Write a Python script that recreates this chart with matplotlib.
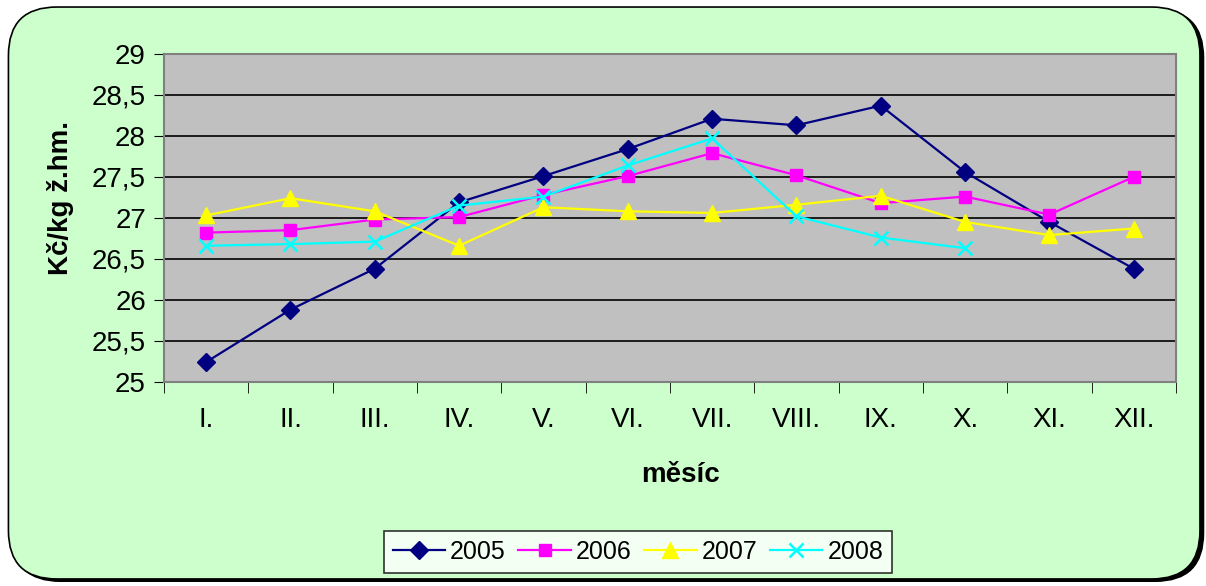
import matplotlib
matplotlib.use("Agg")
import matplotlib.pyplot as plt
from matplotlib.patches import FancyBboxPatch
import numpy as np

months = ["I.", "II.", "III.", "IV.", "V.", "VI.", "VII.", "VIII.", "IX.", "X.", "XI.", "XII."]
y2005 = [25.24, 25.88, 26.38, 27.19, 27.51, 27.84, 28.21, 28.13, 28.37, 27.56, 26.95, 26.38]
y2006 = [26.82, 26.85, 26.98, 27.01, 27.28, 27.51, 27.79, 27.52, 27.18, 27.26, 27.04, 27.50]
y2007 = [27.03, 27.24, 27.08, 26.66, 27.13, 27.08, 27.06, 27.16, 27.27, 26.95, 26.79, 26.87]
y2008 = [26.66, 26.68, 26.71, 27.15, 27.26, 27.64, 27.97, 27.02, 26.76, 26.63]
yticks = [25, 25.5, 26, 26.5, 27, 27.5, 28, 28.5, 29]

plt.rcParams['font.family'] = ['Liberation Sans', 'DejaVu Sans']

fig = plt.figure(figsize=(12.06, 5.86), dpi=100)
fig.patch.set_facecolor("white")

# rounded green background with a dark shadow
shadow = FancyBboxPatch((0.010, 0.008), 0.988, 0.976, boxstyle="round,pad=0,rounding_size=0.04",
                        transform=fig.transFigure, facecolor="black", edgecolor="black",
                        mutation_aspect=1206 / 586, zorder=-3)
bg = FancyBboxPatch((0.007, 0.012), 0.988, 0.976, boxstyle="round,pad=0,rounding_size=0.04",
                    transform=fig.transFigure, facecolor="#CCFFCC", edgecolor="black",
                    linewidth=1.2, mutation_aspect=1206 / 586, zorder=-2)
fig.patches.extend([shadow, bg])

ax = fig.add_axes([0.136, 0.3486, 0.839, 0.5592])
ax.set_facecolor("#C0C0C0")
for s in ax.spines.values():
    s.set_color("#808080")
    s.set_linewidth(1.5)

x = np.arange(len(months))
ax.plot(x, y2005, color="#000080", marker="D", markersize=9, linewidth=1.6, label="2005")
ax.plot(x, y2006, color="#FF00FF", marker="s", markersize=9, linewidth=1.6, label="2006")
ax.plot(x, y2007, color="#FFFF00", marker="^", markersize=11, linewidth=1.6, label="2007")
ax.plot(x[:len(y2008)], y2008, color="#00FFFF", marker="x", markersize=10, markeredgewidth=1.8,
        linewidth=1.6, label="2008")

ax.set_xlim(-0.5, len(months) - 0.5)
ax.set_ylim(25, 29)
ax.set_yticks(yticks)
ax.set_yticklabels([f"{v:g}".replace(".", ",") for v in yticks], fontsize=20)
ax.yaxis.grid(True, color="black", linewidth=1.2)
ax.set_axisbelow(True)

ax.set_xticks(x)
ax.set_xticklabels(months, fontsize=20)
ax.set_xticks(np.arange(-0.5, len(months), 1), minor=True)
ax.tick_params(axis="x", which="major", length=0, pad=18)
ax.tick_params(axis="x", which="minor", length=8, direction="out", color="black")
ax.tick_params(axis="y", length=7, direction="out", color="black", pad=6)

fig.text(0.564, 0.19, "měsíc", fontsize=20, fontweight="bold", ha="center", va="center")
fig.text(0.05, 0.662, "Kč/kg ž.hm.", fontsize=20, fontweight="bold", ha="center", va="center",
         rotation=90)

leg = fig.legend(loc="center", bbox_to_anchor=(0.529, 0.058), ncol=4, fontsize=18,
                 frameon=True, fancybox=False, edgecolor="black", handlelength=2.1,
                 handletextpad=0.2, columnspacing=0.5, borderpad=0.35, borderaxespad=0)
leg.get_frame().set_linewidth(1.2)
leg.get_frame().set_facecolor("white")

fig.savefig("out.png", dpi=100)
